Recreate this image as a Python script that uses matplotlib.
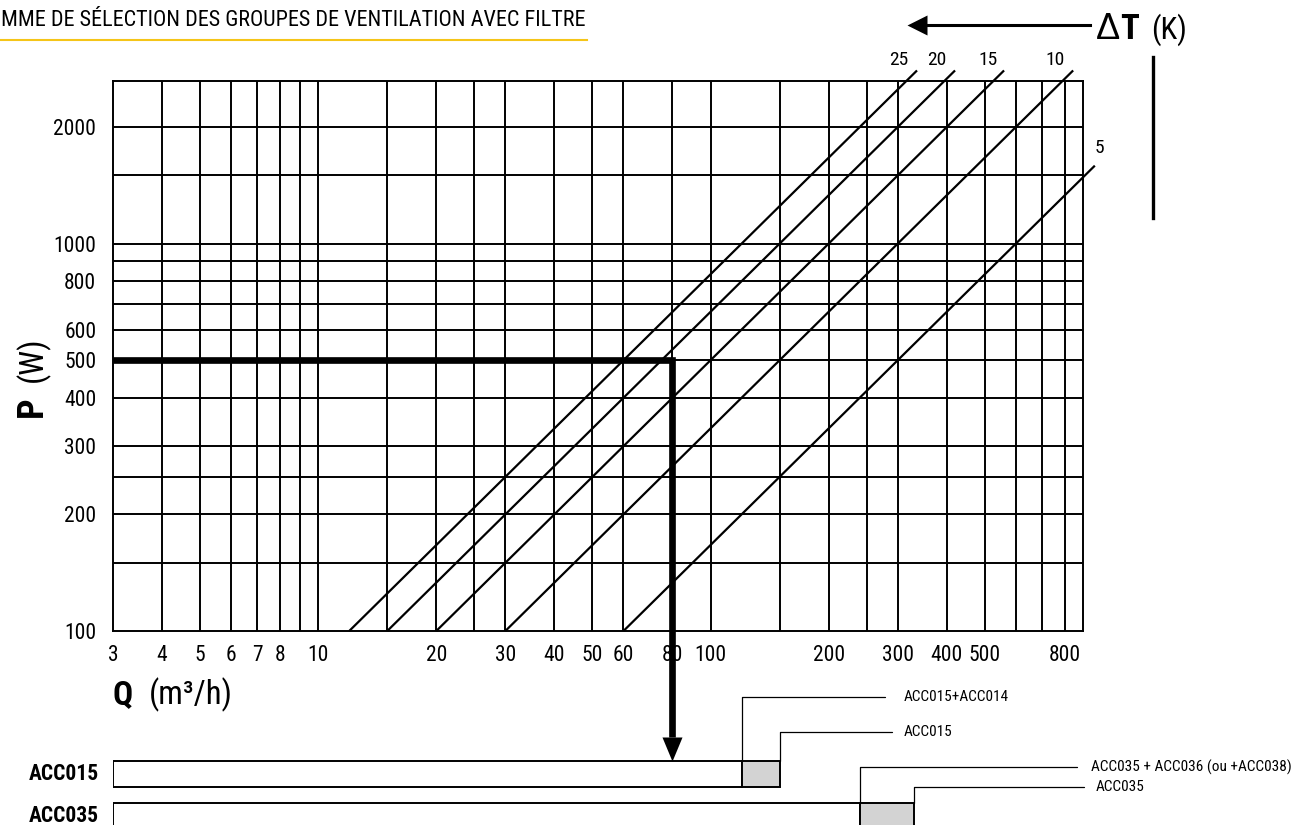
import matplotlib
matplotlib.use("Agg")
import matplotlib.pyplot as plt
from matplotlib import font_manager
from matplotlib.lines import Line2D
from matplotlib.ticker import NullLocator
import matplotlib.transforms as mtransforms

# the leaflet uses a condensed sans: pick the first condensed family that is installed
ttf = font_manager.fontManager.ttflist
prefer = ["Liberation Sans Narrow", "Roboto Condensed", "Open Sans Condensed",
          "Noto Sans Condensed", "DejaVu Sans Condensed"]
NARROW, STRETCH = None, "normal"
for name in prefer:
    if any(f.name == name for f in ttf):
        NARROW = name
        break
if NARROW is None:
    for fam in ["Roboto", "Noto Sans", "Open Sans", "DejaVu Sans"]:
        if any(f.name == fam and f.stretch in ("condensed", "semi-condensed", "extra-condensed")
               for f in ttf):
            NARROW, STRETCH = fam, "condensed"
            break
if NARROW is None:
    NARROW = "DejaVu Sans"
FOUND = NARROW != "DejaVu Sans" or STRETCH == "condensed"
k = 1.0 if FOUND else 0.82   # shrink text when only a wide font is available
WIDE = "Liberation Sans" if any(f.name == "Liberation Sans" for f in ttf) else "DejaVu Sans"
plt.rcParams["font.family"] = [NARROW, "DejaVu Sans"]
plt.rcParams["font.stretch"] = STRETCH

# air flow Q (m3/h) vs heat load P (W), lines of constant delta T: P = Q * dT / 3
dt_values = [25, 20, 15, 10, 5]
dt_end_power = [2800, 2800, 2800, 2800, 1590]
p_start = 100
air_factor = 1.0 / 3.0

q_ticks = [3, 4, 5, 6, 7, 8, 10, 20, 30, 40, 50, 60, 80, 100, 200, 300, 400, 500, 800]
q_grid = [4, 5, 6, 7, 8, 9, 10, 15, 20, 25, 30, 40, 50, 60, 80, 100, 150, 200,
          250, 300, 400, 500, 600, 700, 800]
p_ticks = [100, 200, 300, 400, 500, 600, 800, 1000, 2000]
p_grid = [150, 200, 250, 300, 400, 500, 600, 700, 800, 900, 1000, 1500, 2000]
q_lim = (3, 890)
p_lim = (100, 2630)

# worked example
sel_q = 80
sel_p = 500

# fan units: white part up to q_filter, grey part up to q_max
units = ["ACC015", "ACC035"]
q_filter = [120, 240]
q_max = [150, 330]
note_filter = ["ACC015+ACC014", "ACC035 + ACC036 (ou +ACC038)"]
note_max = ["ACC015", "ACC035"]

W, H = 1301, 825
fig = plt.figure(figsize=(W / 100, H / 100), dpi=100)
ax = fig.add_axes([113 / W, (H - 631) / H, 970 / W, 550 / H])
ax.set_xscale("log")
ax.set_yscale("log")
ax.set_xlim(*q_lim)
ax.set_ylim(*p_lim)

ax.vlines(q_grid, p_lim[0], p_lim[1], color="black", lw=1.4, zorder=1)
ax.hlines(p_grid, q_lim[0], q_lim[1], color="black", lw=1.4, zorder=1)
for s in ax.spines.values():
    s.set_linewidth(1.4)

ax.xaxis.set_minor_locator(NullLocator())
ax.yaxis.set_minor_locator(NullLocator())
ax.set_xticks(q_ticks, labels=[str(v) for v in q_ticks])
ax.set_yticks(p_ticks, labels=[str(v) for v in p_ticks])
ax.tick_params(axis="x", length=0, pad=10, labelsize=15.5 * k)
ax.tick_params(axis="y", length=0, pad=12, labelsize=15.5 * k)

# delta T lines
label_offsets = [(-18, 10), (-18, 10), (-16, 10), (-18, 10), (5, 18)]
for dt, p_end, off in zip(dt_values, dt_end_power, label_offsets):
    q0 = p_start / (dt * air_factor)
    q1 = p_end / (dt * air_factor)
    ax.plot([q0, q1], [p_start, p_end], color="black", lw=1.6, clip_on=False,
            solid_capstyle="butt", zorder=3)
    ax.annotate(str(dt), xy=(q1, p_end), xytext=off, textcoords="offset pixels",
                ha="center", va="center", fontsize=14 * k, annotation_clip=False)

# thick selection path
ax.plot([q_lim[0], sel_q, sel_q], [sel_p, sel_p, p_lim[0]], color="black", lw=4.8,
        solid_joinstyle="miter", solid_capstyle="butt", zorder=5, clip_on=False)

# lower panel with the fan units (y in pixels from the figure bottom)
ax2 = fig.add_axes([113 / W, 0, 970 / W, (H - 631) / H], sharex=ax)
ax2.set_ylim(0, H - 631)
ax2.axis("off")

bar_top = [64, 22]
bar_h = [26, 46]
ax2.plot([sel_q, sel_q], [H - 631, 88], color="black", lw=4.8,
         solid_capstyle="butt", clip_on=False, zorder=5)
head = [(-10, 0), (10, 0), (0, -24)]
ax2.plot([sel_q], [88], marker=head, markersize=34.6, color="black",
         markeredgewidth=0, clip_on=False, zorder=5)

for i, name in enumerate(units):
    y0 = bar_top[i] - bar_h[i]
    ax2.barh(y0 + bar_h[i] / 2, q_filter[i] - q_lim[0], left=q_lim[0], height=bar_h[i],
             facecolor="white", edgecolor="black", lw=1.4)
    ax2.barh(y0 + bar_h[i] / 2, q_max[i] - q_filter[i], left=q_filter[i], height=bar_h[i],
             facecolor="#d3d3d3", edgecolor="black", lw=1.4)
    ax2.annotate(name, xy=(q_lim[0], bar_top[i] - 13), xytext=(-14, 0),
                 textcoords="offset pixels", ha="right", va="center",
                 fontsize=15.5 * k, fontweight="bold", annotation_clip=False)

blend = mtransforms.blended_transform_factory(ax2.transAxes, ax2.transData)
leaders = [
    (q_filter[0], bar_top[0], note_filter[0], 0.8155, 128, 11.5),
    (q_max[0], bar_top[0], note_max[0], 0.8155, 93, 6.5),
    (q_filter[1], bar_top[1], note_filter[1], 1.0082, 58, 8),
    (q_max[1], bar_top[1], note_max[1], 1.0134, 38, 6.5),
]
for q, yb, txt, fx, yt, gap in leaders:
    ax2.annotate(txt, xy=(q, yb), xytext=(fx, yt), textcoords=blend,
                 ha="left", va="center", fontsize=11 * k * (0.85 if not FOUND else 1),
                 annotation_clip=False,
                 arrowprops=dict(arrowstyle="-", color="black", lw=0.9,
                                 connectionstyle="angle,angleA=0,angleB=90,rad=0",
                                 relpos=(0, 0.5), shrinkA=gap, shrinkB=0))

# header
fig.text(1 / W, 1 - 20 / H, "MME DE SÉLECTION DES GROUPES DE VENTILATION AVEC FILTRE",
         fontsize=15.9 * k, va="center", ha="left")
fig.add_artist(Line2D([0, 587 / W], [1 - 40 / H] * 2, color="#f5c518", lw=1.5))

# delta T legend
fig.add_artist(Line2D([927 / W, 1090 / W], [1 - 25 / H] * 2, color="black", lw=2.2))
fig.add_artist(Line2D([927 / W], [1 - 25 / H], marker=[(0, -10), (0, 10), (-20, 0)],
                      markersize=28.8, color="black", markeredgewidth=0))
fig.text(1096 / W, 1 - 39 / H, "Δ", fontsize=26, family=WIDE, stretch="normal",
         va="baseline")
fig.text(1120 / W, 1 - 39 / H, "T", fontsize=25, fontweight="bold", va="baseline")
fig.text(1151 / W, 1 - 39 / H, "(K)", fontsize=22 * k, va="baseline")
fig.add_artist(Line2D([1153 / W] * 2, [1 - 57 / H, 1 - 218 / H], color="black", lw=2.4))

# axis titles
fig.text(112 / W, 1 - 704 / H, "Q", fontsize=24 * k, fontweight="bold", va="baseline")
fig.text(149 / W, 1 - 704 / H, "(m³/h)", fontsize=23.5 * k, va="baseline")
fig.text(42 / W, 1 - 417 / H, "P", fontsize=26 * k, fontweight="bold", rotation=90,
         rotation_mode="anchor", ha="left", va="baseline")
fig.text(42 / W, 1 - 382 / H, "(W)", fontsize=23.5 * k, rotation=90,
         rotation_mode="anchor", ha="left", va="baseline")

fig.savefig("out.png", dpi=100)
